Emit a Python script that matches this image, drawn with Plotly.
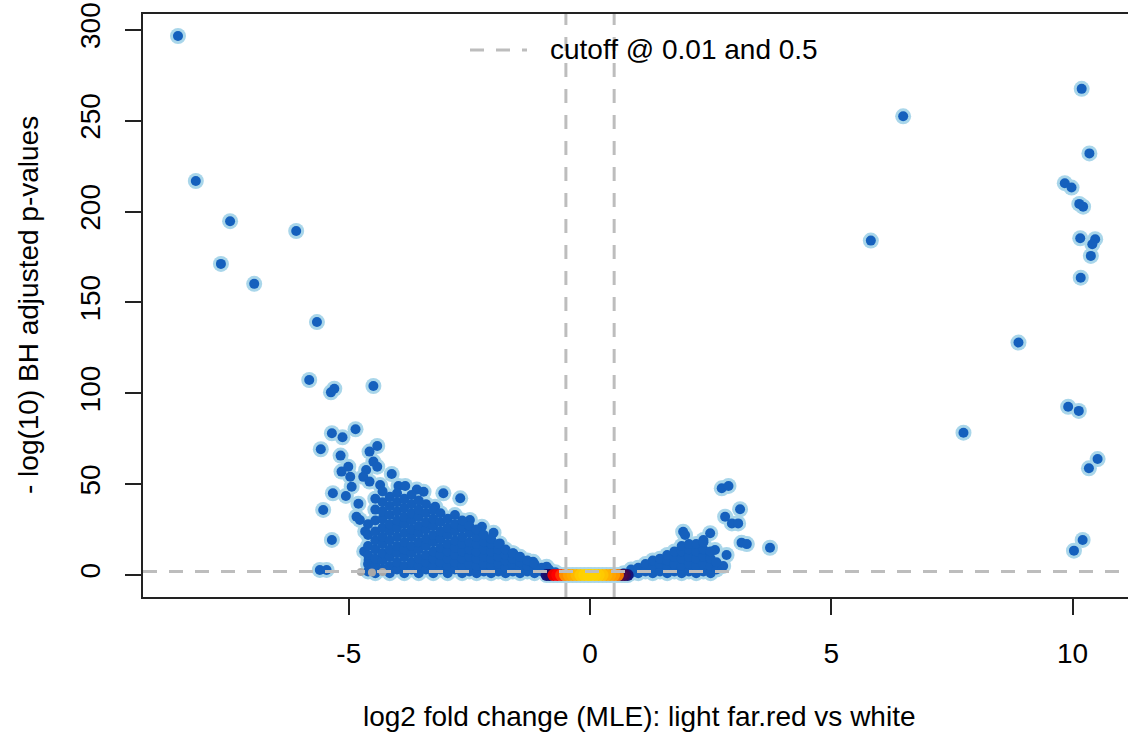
import plotly.graph_objects as go

# ---------------- data ----------------
# isolated significant genes, down-regulated side
down_x = [-8.54, -8.17, -7.46, -7.65, -6.96, -6.09, -5.66, -5.82, -5.30, -5.37,
          -4.49, -5.35, -5.13, -4.86, -5.58, -5.17, -4.57, -4.41, -4.49, -4.41,
          -5.01, -5.15, -4.97, -4.64, -4.70, -4.11, -4.57, -4.35, -5.33, -5.06,
          -5.53, -5.35, -5.60, -5.46, -4.80, -4.94, -4.84, -4.77, -4.59, -4.46,
          -3.97, -3.83, -3.59, -3.45, -3.04, -2.69, -3.21, -2.49, -2.24, -2.00,
          -1.87, -1.59, -1.18, -0.90, -4.68, -4.66]
down_y = [296.6, 216.8, 194.7, 171.2, 160.2, 189.3, 139.2, 107.3, 102.5, 100.5,
          104.0, 78.0, 75.8, 80.2, 69.2, 65.7, 67.9, 71.0, 62.4, 59.6,
          59.6, 56.9, 54.1, 57.8, 54.0, 55.6, 51.4, 49.5, 45.0, 43.5,
          35.8, 19.3, 2.8, 2.8, 39.2, 48.6, 32.1, 30.3, 8.3, 4.6,
          49.0, 49.0, 47.0, 45.8, 45.0, 42.2, 37.6, 30.3, 26.6, 23.3,
          17.4, 11.9, 7.3, 4.6, 13.0, 24.0]

# dense down-regulated cloud, column by column
down_cloud_x = [-4.60, -4.45, -4.30, -4.15, -4.00, -3.85, -3.70, -3.55, -3.40,
                -3.25, -3.10, -2.95, -2.80, -2.65, -2.50, -2.35, -2.20, -2.05,
                -1.90, -1.75, -1.60, -1.45, -1.30, -1.15, -1.00, -0.85, -0.72]
down_cloud_y = [
    [2, 6, 11, 16, 22, 28],
    [1, 5, 9, 14, 19, 24, 30, 36, 42],
    [3, 8, 12, 17, 21, 26, 31, 35, 40, 46],
    [1, 5, 10, 14, 19, 24, 28, 33, 38, 43],
    [3, 7, 12, 16, 21, 26, 30, 35, 40, 45],
    [1, 5, 10, 14, 18, 23, 28, 32, 37, 42],
    [3, 7, 12, 16, 21, 25, 30, 34, 39, 44],
    [1, 5, 9, 14, 18, 23, 27, 32, 36, 41],
    [3, 7, 11, 16, 20, 25, 29, 34, 39],
    [1, 5, 9, 13, 18, 22, 27, 31, 36],
    [3, 7, 11, 15, 20, 24, 29, 34],
    [1, 5, 9, 13, 17, 22, 26, 31],
    [3, 7, 11, 15, 19, 24, 28, 33],
    [1, 5, 9, 13, 17, 21, 26, 30],
    [2, 6, 10, 14, 18, 23, 27],
    [1, 5, 9, 13, 17, 21, 25],
    [2, 6, 10, 14, 18, 22],
    [1, 5, 9, 13, 17, 20],
    [2, 6, 10, 14, 17],
    [1, 4, 8, 11, 14],
    [2, 6, 9, 12],
    [1, 4, 7, 10],
    [2, 5, 8],
    [1, 4, 6],
    [2, 4],
    [1, 3],
    [1.5],
]

# isolated significant genes, up-regulated side
up_x = [10.19, 6.49, 10.35, 9.84, 9.98, 10.14, 10.22, 5.82, 10.16, 10.47,
        10.41, 10.38, 10.17, 8.88, 9.91, 10.13, 7.74, 10.52, 10.34, 10.21,
        10.03, 2.73, 2.87, 3.11, 2.80, 2.94, 3.07, 1.93, 1.97, 2.49,
        2.35, 3.14, 3.25, 3.73, 2.83, 2.59, 2.76]
up_y = [267.5, 252.4, 232.0, 215.6, 213.2, 204.2, 202.7, 184.0, 185.3, 184.8,
        182.0, 175.6, 163.6, 127.9, 92.6, 90.3, 78.3, 63.8, 58.7, 19.3,
        13.4, 47.7, 49.0, 36.2, 32.1, 28.4, 28.4, 23.8, 22.0, 23.0,
        19.3, 17.8, 17.0, 15.0, 11.0, 13.8, 5.0]

# dense up-regulated cloud
up_cloud_x = [0.70, 0.85, 1.00, 1.15, 1.30, 1.45, 1.60, 1.75, 1.90, 2.05,
              2.20, 2.35, 2.50, 2.62]
up_cloud_y = [
    [1], [1, 3], [1, 4], [2, 6], [1, 4, 8], [2, 6, 9], [1, 4, 8, 11],
    [2, 6, 10, 13], [1, 5, 9, 13, 16], [2, 6, 10, 14, 17], [1, 5, 9, 13, 17],
    [2, 6, 10, 14, 18], [1, 5, 9, 13], [3, 7],
]

# non-significant genes near zero, coloured by local density
band_x = [-0.90, 0.78, -0.84, 0.72, 0.66, -0.76, -0.68, 0.58, -0.60,
          -0.52, 0.50, -0.44, 0.42, -0.36, 0.34, -0.28, 0.26,
          -0.20, 0.18, -0.12, 0.10, -0.04, 0.02]
band_y = [0.0] * len(band_x)
band_col = ["#14147a", "#14147a", "#1e0f66", "#3a0850", "#4a0a48", "#e80000",
            "#ff0000", "#f07800", "#ff3000", "#ff8c00", "#ff9a00", "#ffa000",
            "#ffa500", "#ffaa00", "#ffb000", "#ffb800", "#ffc000",
            "#ffc800", "#ffca00", "#ffd000", "#ffd000", "#ffd200", "#ffd200"]

# grey genes sitting on the p-value cutoff
grey_x = [-4.75, -4.52, -4.30]
grey_y = [1.6, 1.4, 1.6]

x_ticks = [-5, 0, 5, 10]
y_ticks = [0, 50, 100, 150, 200, 250, 300]
p_cut = 2.0      # -log10(0.01)
lfc_cut = 0.5

x_title = "log2 fold change (MLE): light far.red vs white"
y_title = "- log(10) BH adjusted p-values"
legend_text = "cutoff @ 0.01 and 0.5"

# ---------------- build ----------------
def flatten(cols_x, cols_y):
    xs, ys = [], []
    for cx, cy in zip(cols_x, cols_y):
        for v in cy:
            xs.append(cx)
            ys.append(v)
    return xs, ys

dcx, dcy = flatten(down_cloud_x, down_cloud_y)
ucx, ucy = flatten(up_cloud_x, up_cloud_y)

sig_x = down_x + dcx + up_x + ucx
sig_y = down_y + dcy + up_y + ucy

FONT = "Liberation Sans, Arial, Helvetica, sans-serif"
BLUE = "#1560bd"
HALO = "#a9d6ea"

fig = go.Figure()
# halo layer
fig.add_trace(go.Scatter(x=sig_x + band_x, y=sig_y + band_y, mode="markers",
                         marker=dict(size=16, color=HALO, line=dict(width=0)),
                         hoverinfo="skip", showlegend=False))
# significant genes
fig.add_trace(go.Scatter(x=sig_x, y=sig_y, mode="markers",
                         marker=dict(size=10, color=BLUE, line=dict(width=0)),
                         showlegend=False))
# density-coloured band
fig.add_trace(go.Scatter(x=band_x, y=band_y, mode="markers",
                         marker=dict(size=12, color=band_col, line=dict(width=0)),
                         showlegend=False))
fig.add_trace(go.Scatter(x=grey_x, y=grey_y, mode="markers",
                         marker=dict(size=8, color="#a8a8a8", line=dict(width=0)),
                         showlegend=False))

DASH = dict(color="#bdbdbd", width=3, dash="14px,12px")
fig.add_shape(type="line", xref="paper", x0=0, x1=1, yref="y", y0=p_cut, y1=p_cut,
              line=DASH, layer="above")
for v in (-lfc_cut, lfc_cut):
    fig.add_shape(type="line", xref="x", x0=v, x1=v, yref="paper", y0=0, y1=1,
                  line=DASH, layer="above")

# legend (line sample + text)
fig.add_shape(type="line", xref="paper", yref="paper",
              x0=(470 - 143) / 985, x1=(527 - 143) / 985,
              y0=(597 - 50) / 583, y1=(597 - 50) / 583,
              line=dict(color="#bdbdbd", width=3, dash="14px,12px"))
fig.add_annotation(text=legend_text, xref="paper", yref="paper",
                   x=(548 - 143) / 985, y=(597 - 50) / 583,
                   xanchor="left", yanchor="middle", showarrow=False,
                   font=dict(family=FONT, size=28, color="#000000"))

fig.add_annotation(text=x_title, xref="paper", yref="paper", x=(639 - 143) / 985, y=0,
                   xanchor="center", yanchor="middle", yshift=-(716 - 597),
                   showarrow=False, font=dict(family=FONT, size=28, color="#000000"))
fig.add_annotation(text=y_title, xref="paper", yref="paper", x=0, y=(597 - 305) / 583,
                   xanchor="center", yanchor="middle", xshift=-(143 - 28), textangle=-90,
                   showarrow=False, font=dict(family=FONT, size=28, color="#000000"))

fig.update_layout(
    width=1128, height=736,
    margin=dict(l=143, r=0, t=14, b=139, pad=0),
    paper_bgcolor="white", plot_bgcolor="white",
    font=dict(family=FONT, size=28, color="#000000"),
    showlegend=False,
    xaxis=dict(range=[-9.265, 11.15], tickvals=x_ticks, ticktext=[str(t) for t in x_ticks],
               showgrid=False, zeroline=False, showline=True, mirror=True,
               linecolor="#222222", linewidth=2, ticks="outside", ticklen=16,
               tickwidth=2, tickcolor="#222222", ticklabelstandoff=14),
    yaxis=dict(range=[-12.1, 308.7], tickvals=y_ticks, ticktext=[str(t) for t in y_ticks],
               showgrid=False, zeroline=False, showline=True, mirror=False,
               linecolor="#222222", linewidth=2, ticks="outside", ticklen=16,
               tickwidth=2, tickcolor="#222222", tickangle=-90, ticklabelstandoff=14),
)

fig.write_html("out.html")
